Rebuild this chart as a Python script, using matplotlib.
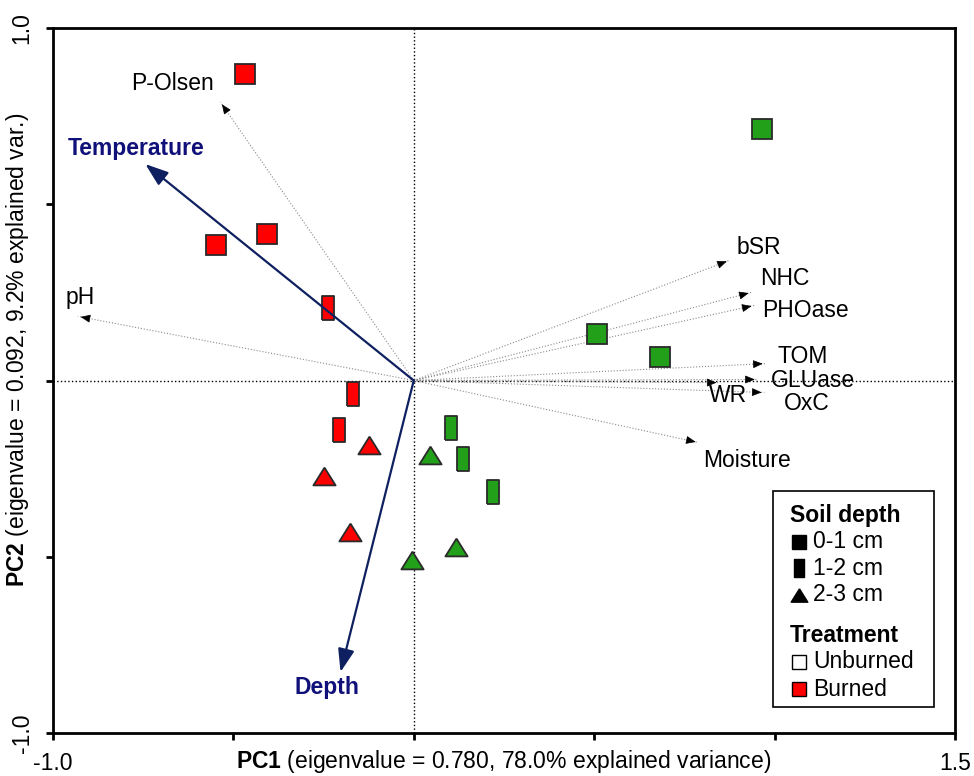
import numpy as np
import matplotlib
matplotlib.use("Agg")
import matplotlib.pyplot as plt
from matplotlib.patches import Rectangle

plt.rcParams['font.family'] = ['Liberation Sans', 'DejaVu Sans']
plt.rcParams['mathtext.fontset'] = 'custom'
plt.rcParams['mathtext.rm'] = 'Liberation Sans'
plt.rcParams['mathtext.bf'] = 'Liberation Sans:bold'

# sample scores (PC1, PC2)
burned_d1_x = [-0.467, -0.547, -0.406]
burned_d1_y = [0.869, 0.384, 0.415]
burned_d2_x = [-0.239, -0.169, -0.206]
burned_d2_y = [0.207, -0.037, -0.139]
burned_d3_x = [-0.125, -0.250, -0.178]
burned_d3_y = [-0.182, -0.270, -0.429]

unburned_d1_x = [0.964, 0.508, 0.683]
unburned_d1_y = [0.713, 0.131, 0.068]
unburned_d2_x = [0.103, 0.136, 0.219]
unburned_d2_y = [-0.134, -0.222, -0.315]
unburned_d3_x = [0.044, -0.006, 0.117]
unburned_d3_y = [-0.210, -0.508, -0.471]

# response variables
var_names = ['P-Olsen', 'pH', 'bSR', 'NHC', 'PHOase', 'TOM', 'GLUase', 'WR', 'OxC', 'Moisture']
var_x = [-0.536, -0.931, 0.875, 0.936, 0.944, 0.975, 0.953, 0.847, 0.972, 0.789]
var_y = [0.790, 0.182, 0.341, 0.250, 0.213, 0.048, 0.003, -0.006, -0.034, -0.176]

# explanatory variables
env_names = ['Temperature', 'Depth']
env_x = [-0.744, -0.203]
env_y = [0.614, -0.827]

# where each label sits relative to the arrow tip
var_label_off = {'P-Olsen': (-0.133, 0.054), 'pH': (0.006, 0.054), 'bSR': (0.081, 0.037),
                 'NHC': (0.092, 0.040), 'PHOase': (0.142, -0.014), 'TOM': (0.103, 0.020),
                 'GLUase': (0.153, -0.003), 'WR': (0.025, -0.037), 'OxC': (0.117, -0.031),
                 'Moisture': (0.136, -0.051)}
env_label_off = {'Temperature': (-0.025, 0.045), 'Depth': (-0.039, -0.045)}

red = '#FF0000'
green = '#22A01A'
navy = '#0F2060'
edge = '#2a2a2a'
fs = 16.5

# tall bar marker for 1-2 cm, flattened triangle for 2-3 cm
bar_marker = [(-0.5, -1), (0.5, -1), (0.5, 1), (-0.5, 1), (-0.5, -1)]
tri_marker = [(0, 0.8), (-1, -0.8), (1, -0.8), (0, 0.8)]

fig = plt.figure(figsize=(9.74, 7.76), dpi=100)
ax = fig.add_axes([0.0544, 0.0554, 0.926, 0.9085])
ax.set_xlim(-1.0, 1.5)
ax.set_ylim(-1.0, 1.0)

ax.axhline(0, color='black', lw=1, ls=':', zorder=1)
ax.axvline(0, color='black', lw=1, ls=':', zorder=1)

for name, vx, vy in zip(var_names, var_x, var_y):
    ax.plot([0, vx], [0, vy], color='#8a8a8a', lw=0.8, ls=':', zorder=2)
    d = np.array([vx, vy]) / np.hypot(vx, vy)
    ax.annotate('', xy=(vx, vy), xytext=(vx - 0.02 * d[0], vy - 0.02 * d[1]),
                arrowprops=dict(arrowstyle='-|>,head_length=0.6,head_width=0.25',
                                color='black', lw=0.5, mutation_scale=10),
                zorder=2)
    ox, oy = var_label_off[name]
    ax.text(vx + ox, vy + oy, name, fontsize=fs, ha='center', va='center', zorder=3)

mk = dict(linestyle='none', markeredgecolor=edge, markeredgewidth=1.3, zorder=4)
ax.plot(burned_d1_x, burned_d1_y, marker='s', ms=15, color=red, **mk)
ax.plot(burned_d2_x, burned_d2_y, marker=bar_marker, ms=17, color=red, **mk)
ax.plot(burned_d3_x, burned_d3_y, marker=tri_marker, ms=16, color=red, **mk)
ax.plot(unburned_d1_x, unburned_d1_y, marker='s', ms=15, color=green, **mk)
ax.plot(unburned_d2_x, unburned_d2_y, marker=bar_marker, ms=17, color=green, **mk)
ax.plot(unburned_d3_x, unburned_d3_y, marker=tri_marker, ms=16, color=green, **mk)

for name, ex, ey in zip(env_names, env_x, env_y):
    ax.annotate('', xy=(ex, ey), xytext=(0, 0),
                arrowprops=dict(arrowstyle='-|>,head_length=0.7,head_width=0.25',
                                color=navy, lw=1.6, mutation_scale=20,
                                shrinkA=0, shrinkB=0),
                zorder=5)
    ox, oy = env_label_off[name]
    ax.text(ex + ox, ey + oy, name, fontsize=fs, fontweight='bold', color='#10107a',
            ha='center', va='center', zorder=5)

# axes frame and ticks
for s in ax.spines.values():
    s.set_linewidth(2)
ax.set_xticks([-1.0, -0.5, 0.0, 0.5, 1.0, 1.5])
ax.set_xticklabels(['-1.0', '', '', '', '', '1.5'], fontsize=fs)
ax.set_yticks([-1.0, -0.5, 0.0, 0.5, 1.0])
ax.set_yticklabels(['-1.0', '', '', '', '1.0'], fontsize=fs, rotation=90, va='center')
ax.tick_params(axis='both', direction='out', length=5, width=2, pad=9)

ax.set_xlabel(r'$\bf{PC1}$ (eigenvalue = 0.780, 78.0% explained variance)', fontsize=fs)
ax.xaxis.set_label_coords(0.5, -0.021)
ax.set_ylabel(r'$\bf{PC2}$ (eigenvalue = 0.092, 9.2% explained var.)', fontsize=fs)
ax.yaxis.set_label_coords(-0.024, 0.543)

# legend box
T = ax.transAxes
ax.add_patch(Rectangle((0.798, 0.037), 0.179, 0.306, transform=T, facecolor='white',
                       edgecolor='black', lw=1.2, zorder=6))
hx, mx, lx = 0.817, 0.827, 0.843
ax.text(hx, 0.309, 'Soil depth', transform=T, fontsize=fs, fontweight='bold', va='center', zorder=7)
depth_rows = [('s', 10, '0-1 cm', 0.271), (bar_marker, 13, '1-2 cm', 0.234), (tri_marker, 12, '2-3 cm', 0.196)]
for m, s, lab, y in depth_rows:
    ax.plot([mx], [y], marker=m, ms=s, color='black', linestyle='none', transform=T, zorder=7)
    ax.text(lx, y, lab, transform=T, fontsize=fs, va='center', zorder=7)
ax.text(hx, 0.138, 'Treatment', transform=T, fontsize=fs, fontweight='bold', va='center', zorder=7)
for fc, lab, y in [('white', 'Unburned', 0.101), (red, 'Burned', 0.062)]:
    ax.plot([mx], [y], marker='s', ms=10, color=fc, markeredgecolor='black', markeredgewidth=1,
            linestyle='none', transform=T, zorder=7)
    ax.text(lx, y, lab, transform=T, fontsize=fs, va='center', zorder=7)

fig.savefig('out.png', dpi=100)
